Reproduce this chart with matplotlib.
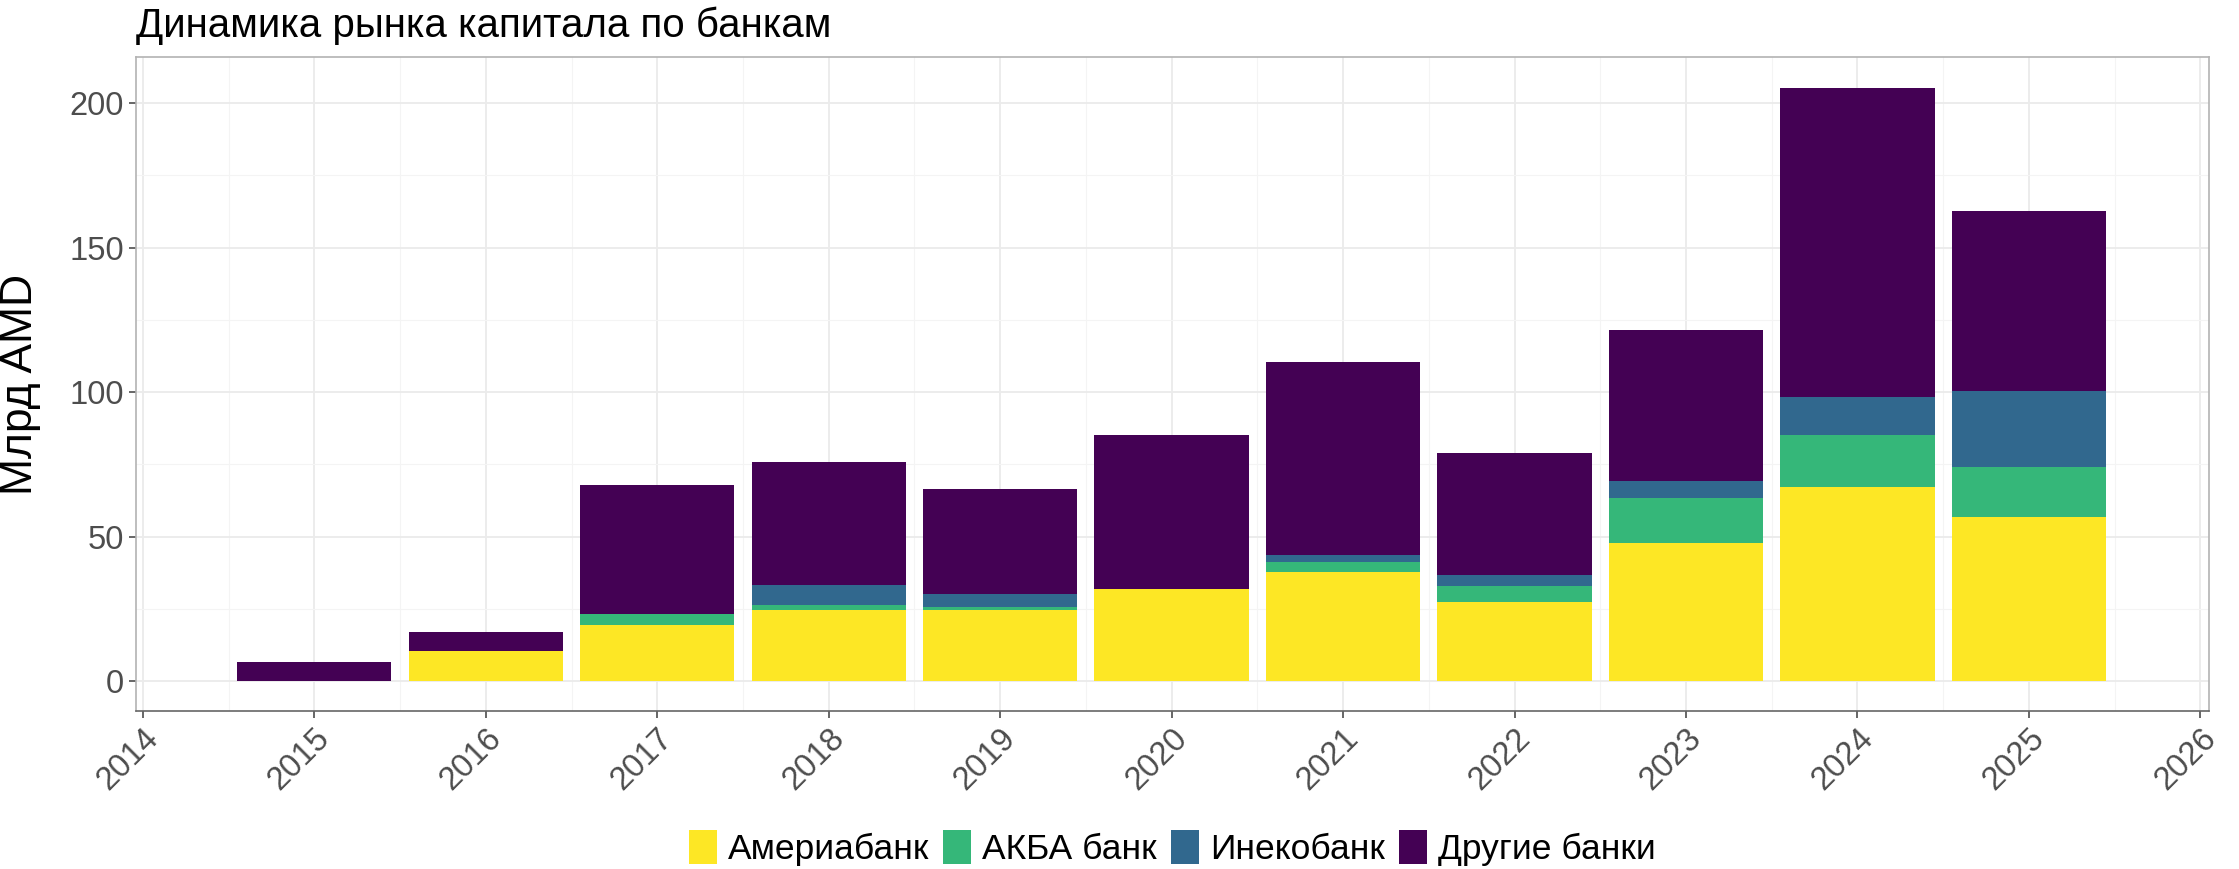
# Динамика рынка капитала по банкам - stacked bars

import numpy as np
from matplotlib import pyplot as plt
from matplotlib.patches import Patch

plt.rcParams['font.family'] = ['Liberation Sans', 'DejaVu Sans']

# Data (Mlrd AMD)
years = [2015, 2016, 2017, 2018, 2019, 2020, 2021, 2022, 2023, 2024, 2025]
ameria = [0, 10.4, 19.6, 24.8, 24.5, 32.0, 37.7, 27.4, 47.9, 67.2, 57.0]
acba = [0, 0, 3.8, 1.7, 1.2, 0, 3.4, 5.5, 15.4, 17.9, 17.0]
ineco = [0, 0, 0, 6.7, 4.5, 0, 2.6, 3.9, 6.0, 13.2, 26.5]
other = [6.5, 6.6, 44.4, 42.7, 36.2, 53.2, 66.6, 42.1, 52.1, 107.1, 62.2]

labels = ['Америабанк', 'АКБА банк', 'Инекобанк', 'Другие банки']
colors = ['#FDE725', '#35B779', '#31688E', '#440154']

W, H = 2239, 869
fig = plt.figure(figsize=(W / 100, H / 100), dpi=100)
ax = fig.add_axes([136 / W, 1 - 711 / H, (2209 - 136) / W, (711 - 57) / H])

# Stacked bars
bottom = np.zeros(len(years))
for vals, c in zip([ameria, acba, ineco, other], colors):
    ax.bar(years, vals, bottom=bottom, width=0.9, color=c, zorder=3)
    bottom = bottom + np.array(vals)

# Axes
ax.set_xlim(2013.96, 2026.05)
ax.set_ylim(-10.3, 216)
ax.set_xticks(range(2014, 2027))
ax.set_xticks(np.arange(2014.5, 2026, 1), minor=True)
ax.set_yticks([0, 50, 100, 150, 200])
ax.set_yticks([25, 75, 125, 175], minor=True)
ax.grid(True, which='major', color='#EBEBEB', lw=1.3, zorder=0)
ax.grid(True, which='minor', color='#F4F4F4', lw=0.8, zorder=0)

ax.tick_params(axis='both', which='major', labelsize=23.5, colors='#4D4D4D',
               length=5, width=1.2, labelcolor='#4D4D4D')
ax.tick_params(axis='both', which='minor', length=0)
for lab in ax.get_xticklabels():
    lab.set_rotation(45)
    lab.set_ha('right')
    lab.set_va('top')
    lab.set_rotation_mode('anchor')

for s in ax.spines.values():
    s.set_color('#B3B3B3')
    s.set_linewidth(1.2)
ax.spines['bottom'].set_color('#666666')

ax.set_ylabel('Млрд AMD', fontsize=32, color='black')
ax.yaxis.set_label_coords(-0.046, 0.5)

fig.text(136 / W, 1 - 26 / H, 'Динамика рынка капитала по банкам',
         fontsize=29, ha='left', va='center', color='black')

# Legend
handles = [Patch(facecolor=c, edgecolor='none') for c in colors]
fig.legend(handles, labels, loc='center', ncol=4, frameon=False,
           bbox_to_anchor=(1172 / W, 21 / H), fontsize=25.5,
           handlelength=0.8, handleheight=1.1, handletextpad=0.3,
           columnspacing=0.4)

plt.savefig('out.png', dpi=100)
